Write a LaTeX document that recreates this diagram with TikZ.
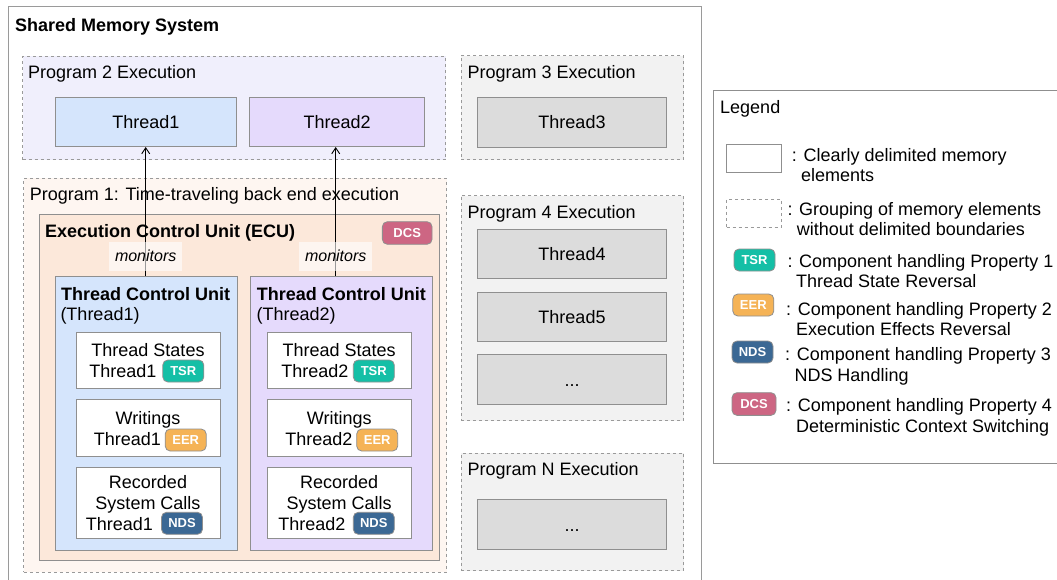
\documentclass[tikz,border=0pt]{standalone}
\usepackage{fontspec}
\setmainfont{Liberation Sans}
\usetikzlibrary{arrows.meta}
\definecolor{linegray}{HTML}{8F8F8F}
\definecolor{dashgray}{HTML}{9A9A9A}
\definecolor{ptwofill}{HTML}{F0EFFC}
\definecolor{bluefill}{HTML}{D5E5FC}
\definecolor{purplefill}{HTML}{E5DAFC}
\definecolor{ponefill}{HTML}{FEF6F1}
\definecolor{ecufill}{HTML}{FCE8DA}
\definecolor{grayfill}{HTML}{F2F2F2}
\definecolor{threadgray}{HTML}{DCDCDC}
\definecolor{tsrc}{HTML}{14BFA6}
\definecolor{eerc}{HTML}{F5B356}
\definecolor{ndsc}{HTML}{3B6894}
\definecolor{dcsc}{HTML}{CD6683}
\begin{document}
\begin{tikzpicture}[x=1pt,y=-1pt,
  rbox/.style={draw=linegray, line width=1pt, inner sep=0pt, anchor=north west},
  dbox/.style={draw=dashgray, line width=1pt, dash pattern=on 3pt off 3pt, inner sep=0pt, anchor=north west},
  lbl/.style={font=\fontsize{18}{21}\selectfont, inner sep=0pt, anchor=base west},
  clbl/.style={font=\fontsize{18}{21}\selectfont, inner sep=0pt, anchor=base},
  elbl/.style={font=\fontsize{18}{21}\selectfont, inner sep=0pt, anchor=base east},
  blbl/.style={font=\fontsize{18}{21}\selectfont\bfseries, inner sep=0pt, anchor=base west},
  boxtext/.style={font=\fontsize{18}{21}\selectfont, text height=13pt, text depth=0pt},
  badge/.style={draw=linegray, line width=0.8pt, rounded corners=5pt, text=white,
    font=\fontsize{13}{13}\selectfont\bfseries, minimum width=41pt, minimum height=22pt, inner sep=0pt},
  mon/.style={fill=white, fill opacity=0.6, text opacity=1, inner sep=0pt,
    minimum width=72.7pt, minimum height=29pt, font=\fontsize{16}{16}\selectfont\itshape},
  arr/.style={draw=black, line width=0.9pt, -{Straight Barb[length=6pt,width=8pt]}}
]
\useasboundingbox (0,0) rectangle (1057,579);
% outer system
\node[rbox, draw=linegray!90, line width=1.2pt, fill=white, minimum width=692.7pt, minimum height=620pt] (sms) at (8,6) {};
\node[blbl] (smst) at (15,31.5) {Shared Memory System};
% Program 2
\node[dbox, fill=ptwofill, minimum width=423pt, minimum height=103.3pt] (p2) at (22,55.7) {};
\node[lbl] (p2l) at (28,78.3) {Program 2 Execution};
\node[rbox, fill=bluefill, minimum width=181.3pt, minimum height=49.3pt, boxtext] (p2t1) at (54.7,96.7) {Thread1};
\node[rbox, fill=purplefill, minimum width=174.7pt, minimum height=49.3pt, boxtext] (p2t2) at (249.3,96.7) {Thread2};
% Program 1
\node[dbox, fill=ponefill, minimum width=422.7pt, minimum height=394pt] (p1) at (23.3,177.7) {};
\node[lbl] (p1l) at (29.7,200) {Program 1: Time-traveling back end execution};
\node[rbox, fill=ecufill, minimum width=400pt, minimum height=346.3pt] (ecu) at (39.3,213.7) {};
\node[blbl] (ecul) at (45,237.7) {Execution Control Unit (ECU)};
\node[badge, fill=dcsc, minimum width=49.7pt, minimum height=22.6pt] (dcs) at (407.2,233) {DCS};
% TCU1
\node[rbox, fill=bluefill, minimum width=182.3pt, minimum height=274.3pt] (tcu1) at (54.7,275.7) {};
\node[blbl] (tcu1a) at (61,300) {Thread Control Unit};
\node[lbl] (tcu1b) at (60.3,320) {(Thread1)};
\node[rbox, fill=white, minimum width=143.4pt, minimum height=56.3pt] (ts1) at (76.3,331.7) {};
\node[rbox, fill=white, minimum width=143.4pt, minimum height=56.4pt] (wr1) at (76.3,399.3) {};
\node[rbox, fill=white, minimum width=143.4pt, minimum height=71pt] (rc1) at (76.3,466.7) {};
\node[clbl] (ts1a) at (148,356.7) {Thread States};
\node[elbl] (ts1b) at (156.5,377.7) {Thread1};
\node[badge, fill=tsrc] (tsr1) at (183.3,371) {TSR};
\node[clbl] (wr1a) at (148,424.3) {Writings};
\node[elbl] (wr1b) at (161,445.7) {Thread1};
\node[badge, fill=eerc] (eer1) at (185.7,440) {EER};
\node[clbl] (rc1a) at (148,488.7) {Recorded};
\node[clbl] (rc1b) at (148,509.3) {System Calls};
\node[elbl] (rc1c) at (153,530.3) {Thread1};
\node[badge, fill=ndsc] (nds1) at (182,523.3) {NDS};
% TCU2
\node[rbox, fill=purplefill, minimum width=181.4pt, minimum height=274.3pt] (tcu2) at (250.3,275.7) {};
\node[blbl] (tcu2a) at (256.7,300) {Thread Control Unit};
\node[lbl] (tcu2b) at (256.5,320) {(Thread2)};
\node[rbox, fill=white, minimum width=143.7pt, minimum height=56.3pt] (ts2) at (267.3,331.7) {};
\node[rbox, fill=white, minimum width=143.7pt, minimum height=56.4pt] (wr2) at (267.3,399.3) {};
\node[rbox, fill=white, minimum width=143.7pt, minimum height=71pt] (rc2) at (267.3,466.7) {};
\node[clbl] (ts2a) at (339.2,356.7) {Thread States};
\node[elbl] (ts2b) at (348.5,377.7) {Thread2};
\node[badge, fill=tsrc] (tsr2) at (373.8,371) {TSR};
\node[clbl] (wr2a) at (339.2,424.3) {Writings};
\node[elbl] (wr2b) at (352.7,445.7) {Thread2};
\node[badge, fill=eerc] (eer2) at (377.2,440) {EER};
\node[clbl] (rc2a) at (339.2,488.7) {Recorded};
\node[clbl] (rc2b) at (339.2,509.3) {System Calls};
\node[elbl] (rc2c) at (345.5,530.3) {Thread2};
\node[badge, fill=ndsc] (nds2) at (373.8,523.3) {NDS};
% monitors arrows
\coordinate (a1) at (145.7,0);
\coordinate (a2) at (335.7,0);
\draw[arr] (a1 |- tcu1.north) -- (a1 |- p2t1.south);
\draw[arr] (a2 |- tcu2.north) -- (a2 |- p2t2.south);
\node[mon] (m1) at (a1 |- 0,256.2) {monitors};
\node[mon] (m2) at (a2 |- 0,256.2) {monitors};
% right column
\node[dbox, fill=grayfill, minimum width=222.6pt, minimum height=104pt] (p3) at (460.7,55) {};
\node[lbl] (p3l) at (467.3,78.3) {Program 3 Execution};
\node[rbox, fill=threadgray, minimum width=188.4pt, minimum height=50pt, boxtext] (t3) at (477.3,96.7) {Thread3};
\node[dbox, fill=grayfill, minimum width=222.6pt, minimum height=225pt] (p4) at (460.7,195) {};
\node[lbl] (p4l) at (467.3,218.3) {Program 4 Execution};
\node[rbox, fill=threadgray, minimum width=188.4pt, minimum height=48.7pt, boxtext] (t4) at (477.3,229) {Thread4};
\node[rbox, fill=threadgray, minimum width=188.4pt, minimum height=49pt, boxtext] (t5) at (477.3,291.7) {Thread5};
\node[rbox, fill=threadgray, minimum width=188.4pt, minimum height=49.4pt, boxtext] (t6) at (477.3,354.3) {...};
\node[dbox, fill=grayfill, minimum width=222.6pt, minimum height=117.3pt] (pn) at (460.7,452.7) {};
\node[lbl] (pnl) at (467.3,475) {Program N Execution};
\node[rbox, fill=threadgray, minimum width=188.4pt, minimum height=49.7pt, boxtext] (tn) at (477.3,499.3) {...};
% legend
\node[rbox, fill=white, minimum width=360pt, minimum height=372.7pt] (leg) at (713.3,90) {};
\node[lbl] (legl) at (720,113.3) {Legend};
\node[rbox, fill=white, minimum width=54.7pt, minimum height=28.3pt] (lg1) at (726,144) {};
\node[lbl] (lg1a) at (791.7,161.7) {: Clearly delimited memory};
\node[lbl] (lg1b) at (801,181.7) {elements};
\node[dbox, minimum width=55pt, minimum height=27.7pt] (lg2) at (726,199) {};
\node[lbl] (lg2a) at (787.3,215) {: Grouping of memory elements};
\node[lbl] (lg2b) at (796.7,235.3) {without delimited boundaries};
\node[badge, fill=tsrc] (lgtsr) at (754.5,260) {TSR};
\node[lbl] (lg3a) at (787.3,267.7) {: Component handling Property 1};
\node[lbl] (lg3b) at (796,287.3) {Thread State Reversal};
\node[badge, fill=eerc] (lgeer) at (753.3,305) {EER};
\node[lbl] (lg4a) at (786,315) {: Component handling Property 2};
\node[lbl] (lg4b) at (796,335.7) {Execution Effects Reversal};
\node[badge, fill=ndsc] (lgnds) at (752.5,352) {NDS};
\node[lbl] (lg5a) at (785,360.7) {: Component handling Property 3};
\node[lbl] (lg5b) at (794.3,381.7) {NDS Handling};
\node[badge, fill=dcsc, minimum width=44pt, minimum height=22.7pt] (lgdcs) at (754,404) {DCS};
\node[lbl] (lg6a) at (786,411.7) {: Component handling Property 4};
\node[lbl] (lg6b) at (796,432.7) {Deterministic Context Switching};
\end{tikzpicture}
\end{document}
